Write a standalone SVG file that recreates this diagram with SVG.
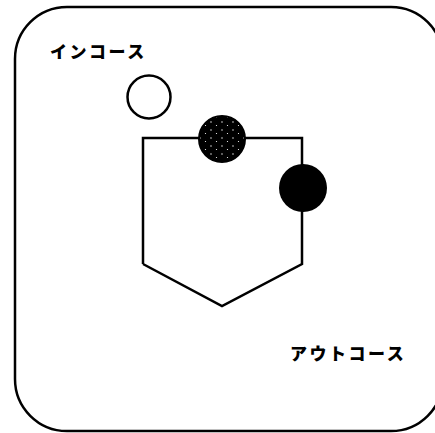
<svg xmlns="http://www.w3.org/2000/svg" width="435" height="433" viewBox="0 0 435 433">
<style>
.ln{fill:none;stroke:#000;stroke-width:2.5;stroke-linejoin:miter}
.lbl{font-family:"Noto Sans CJK JP",sans-serif;font-weight:900;font-size:17px;fill:#000;letter-spacing:2.5px}
</style>
<defs>
<pattern id="spk" width="11" height="8" patternUnits="userSpaceOnUse">
<rect width="11" height="8" fill="#000"/>
<circle cx="2" cy="2" r="0.7" fill="#fff"/>
<circle cx="7.5" cy="5.5" r="0.6" fill="#fff"/>
</pattern>
</defs>
<rect x="15" y="7" width="428" height="424" rx="52" class="ln"/>
<g id="pocket"><polyline class="ln" points="143,264 143,138 302,138 302,264 222,306 143,264"/></g>
<g id="open-circle"><circle cx="149" cy="97" r="21.5" fill="#fff" stroke="#000" stroke-width="2.5"/></g>
<g id="speckled-circle"><circle cx="222" cy="139" r="23" fill="url(#spk)" stroke="#000" stroke-width="2"/></g>
<g id="black-circle"><circle cx="303" cy="188" r="24" fill="#000"/></g>
<g id="label-in"><text class="lbl" x="50" y="58">インコース</text></g>
<g id="label-out"><text class="lbl" x="290" y="360">アウトコース</text></g>
</svg>
